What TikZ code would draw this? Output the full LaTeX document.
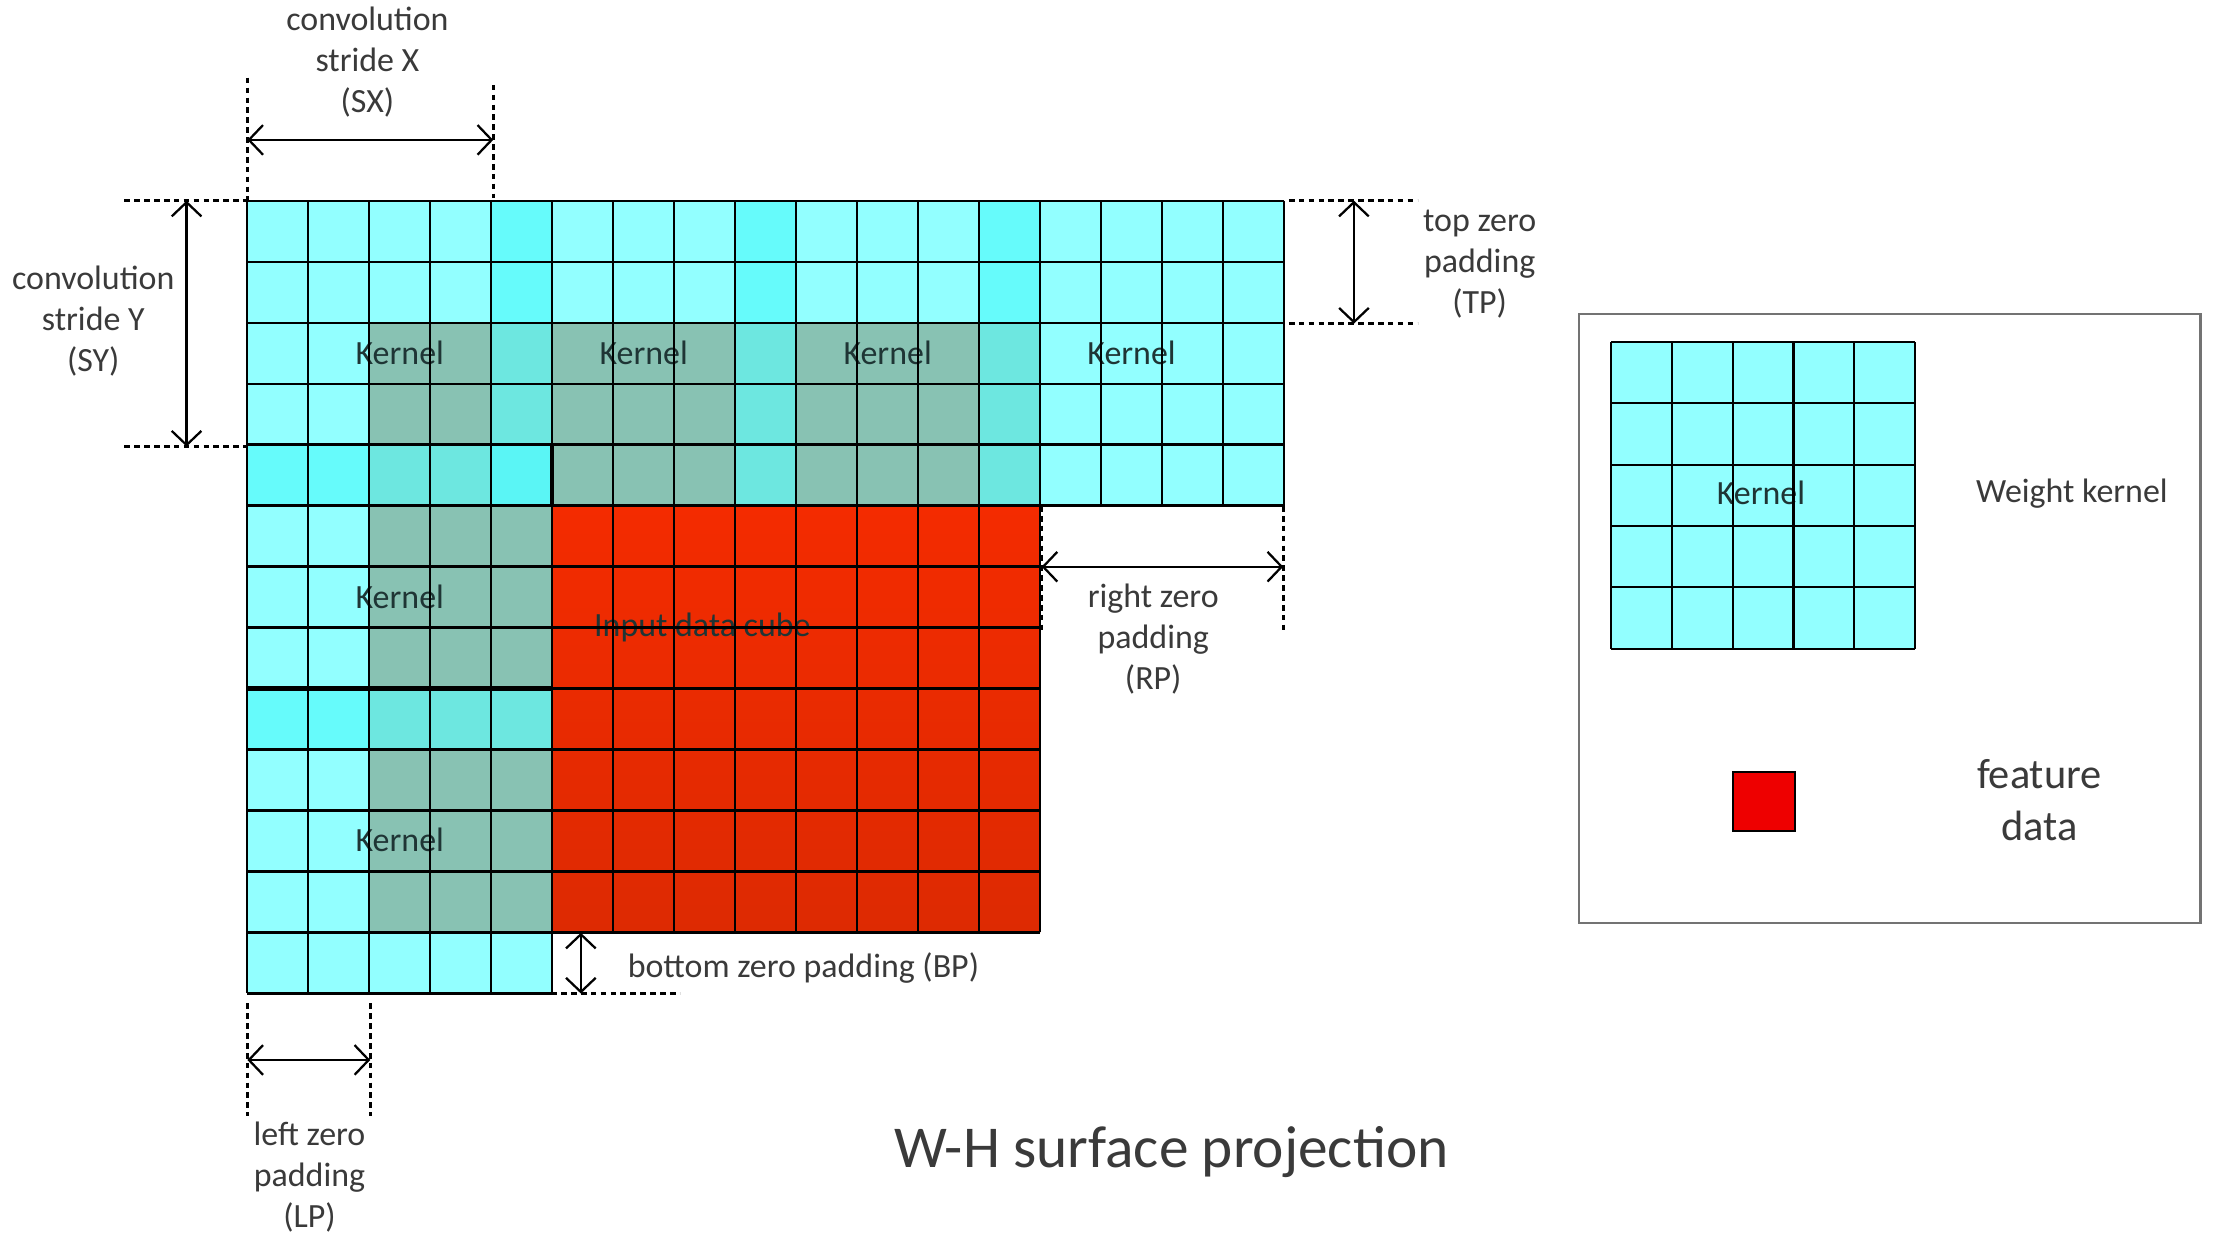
\documentclass[tikz,border=0pt]{standalone}
\usepackage{fontspec}
\setmainfont{Carlito}
\usetikzlibrary{arrows.meta}
\definecolor{colA}{HTML}{92FFFF}
\definecolor{colB}{HTML}{66FBFB}
\definecolor{colC}{HTML}{5AF5F5}
\definecolor{colG}{HTML}{88C2B3}
\definecolor{colT}{HTML}{6DE7E0}
\definecolor{redTop}{HTML}{F42B00}
\definecolor{redBot}{HTML}{DD2A02}
\definecolor{featred}{HTML}{EE0000}
\definecolor{txt}{HTML}{3A3A3A}
\definecolor{ktxt}{HTML}{1F3535}
\newcommand\cs{43.15}
\newcommand\gridrow[2]{\foreach \cc [count=\ii from 0] in {#2} {\fill[fill=col\cc] ({175+\ii*\cs},{142+#1*\cs}) rectangle ++(\cs,\cs);}}
\begin{document}
\begin{tikzpicture}[x=1pt,y=-1pt,
  lbl/.style={text=txt,align=center,inner sep=0pt,font=\fontsize{24}{29}\selectfont},
  klbl/.style={text=ktxt,inner sep=0pt,font=\fontsize{24}{29}\selectfont},
  gridline/.style={line width=1.6pt,black},
  thickline/.style={line width=3pt,black},
  dashline/.style={line width=2pt,dash pattern=on 4pt off 3pt,black},
  dimarrow/.style={line width=1.6pt,{Straight Barb[length=10pt,width=21pt]}-{Straight Barb[length=10pt,width=21pt]}}]
\useasboundingbox (0,0) rectangle (1568,886);
\fill[white] (0,0) rectangle (1568,886);

% ---- red input data
\shade[top color=redTop,bottom color=redBot] ({175+5*\cs},{142+5*\cs}) rectangle ({175+13*\cs},{142+12*\cs});

% ---- cyan / kernel cells
\gridrow{0}{A,A,A,A,B,A,A,A,B,A,A,A,B,A,A,A,A}
\gridrow{1}{A,A,A,A,B,A,A,A,B,A,A,A,B,A,A,A,A}
\gridrow{2}{A,A,G,G,T,G,G,G,T,G,G,G,T,A,A,A,A}
\gridrow{3}{A,A,G,G,T,G,G,G,T,G,G,G,T,A,A,A,A}
\gridrow{4}{B,B,T,T,C,G,G,G,T,G,G,G,T,A,A,A,A}
\gridrow{5}{A,A,G,G,G}
\gridrow{6}{A,A,G,G,G}
\gridrow{7}{A,A,G,G,G}
\gridrow{8}{B,B,T,T,T}
\gridrow{9}{A,A,G,G,G}
\gridrow{10}{A,A,G,G,G}
\gridrow{11}{A,A,G,G,G}
\gridrow{12}{A,A,A,A,A}

% ---- texts inside the grid
\node[klbl] (k1) at ({175+2.5*\cs},250) {Kernel};
\node[klbl] (k2) at ({175+6.5*\cs},250) {Kernel};
\node[klbl] (k3) at ({175+10.5*\cs},250) {Kernel};
\node[klbl] (k4) at ({175+14.5*\cs},250) {Kernel};
\node[klbl] (k5) at ({175+2.5*\cs},422) {Kernel};
\node[klbl] (k6) at ({175+2.5*\cs},594) {Kernel};
\node[klbl] (idc) at (497,444) {Input data cube};

% ---- grid lines
\foreach \r in {0,...,5} \draw[gridline] (175,{142+\r*\cs}) -- ({175+17*\cs},{142+\r*\cs});
\foreach \r in {6,...,12} \draw[gridline] (175,{142+\r*\cs}) -- ({175+13*\cs},{142+\r*\cs});
\draw[gridline] (175,{142+13*\cs}) -- ({175+5*\cs},{142+13*\cs});
\foreach \c in {0,...,5} \draw[gridline] ({175+\c*\cs},142) -- ({175+\c*\cs},{142+13*\cs});
\foreach \c in {6,...,13} \draw[gridline] ({175+\c*\cs},142) -- ({175+\c*\cs},{142+12*\cs});
\foreach \c in {14,...,17} \draw[gridline] ({175+\c*\cs},142) -- ({175+\c*\cs},{142+5*\cs});
\draw[thickline] ({175+5*\cs},{142+4*\cs}) -- ({175+5*\cs},{142+5*\cs});
\draw[thickline] (175,{142+8*\cs}) -- ({175+5*\cs},{142+8*\cs});

% ---- SX
\draw[dashline] (175,55) -- (175,142);
\draw[dashline] (349,60) -- (349,140);
\coordinate (sxa) at (175,99);
\coordinate (sxb) at (349,99);
\draw[dimarrow] (sxa) -- (sxb);
\node[lbl] (sx) at (260,44) {convolution\\stride X\\(SX)};

% ---- SY
\draw[dashline] (88,142) -- (175,142);
\draw[dashline] (88,316) -- (175,316);
\coordinate (sya) at (132,142);
\coordinate (syb) at (132,316);
\draw[dimarrow] (sya) -- (syb);
\node[lbl] (sy) at (66,227) {convolution\\stride Y\\(SY)};

% ---- TP
\draw[dashline] (912,142) -- (1003,142);
\draw[dashline] (912,229) -- (1003,229);
\coordinate (tpa) at (958,142);
\coordinate (tpb) at (958,229);
\draw[dimarrow] (tpa) -- (tpb);
\node[lbl] (tp) at (1047,187) {top zero\\padding\\(TP)};

% ---- RP
\draw[dashline] (737,358) -- (737,447);
\draw[dashline] (908,358) -- (908,447);
\coordinate (rpa) at (737,401);
\coordinate (rpb) at (908,401);
\draw[dimarrow] (rpa) -- (rpb);
\node[lbl] (rp) at (816,452) {right zero\\padding\\(RP)};

% ---- BP
\draw[dashline] (390,660) -- (481,660);
\draw[dashline] (390,703) -- (481,703);
\coordinate (bpa) at (411,660);
\coordinate (bpb) at (411,703);
\draw[dimarrow] (bpa) -- (bpb);
\node[lbl,anchor=west] (bp) at (444,685) {bottom zero padding (BP)};

% ---- LP
\draw[dashline] (175,710) -- (175,790);
\draw[dashline] (262,710) -- (262,790);
\coordinate (lpa) at (175,750);
\coordinate (lpb) at (262,750);
\draw[dimarrow] (lpa) -- (lpb);
\node[lbl] (lp) at (219,833) {left zero\\padding\\(LP)};

% ---- title
\node[text=txt,inner sep=0pt,font=\fontsize{42}{50}\selectfont] (title) at (829,815) {W-H surface projection};

% ---- legend
\draw[line width=1.5pt,draw=black!55] (1117,222) rectangle (1557,653);
\fill[colA] (1140,242) rectangle (1355,459);
\node[klbl] (lk) at (1246,349) {Kernel};
\foreach \i in {0,...,5} {
  \draw[gridline] ({1140+\i*43},242) -- ({1140+\i*43},459);
  \draw[gridline] (1140,{242+\i*43.4}) -- (1355,{242+\i*43.4});
}
\node[lbl] (wk) at (1466,349) {Weight kernel};
\draw[line width=1.6pt,fill=featred] (1226,546) rectangle (1270,588);
\node[lbl,font=\fontsize{30}{37}\selectfont] (fd) at (1443,566) {feature\\data};
\end{tikzpicture}
\end{document}
